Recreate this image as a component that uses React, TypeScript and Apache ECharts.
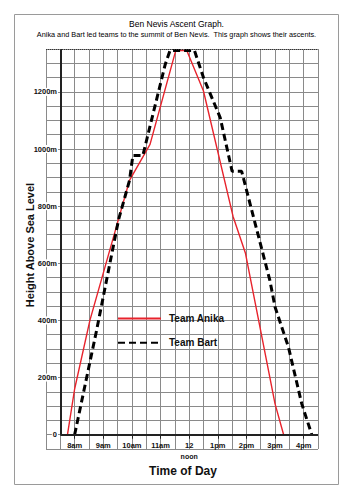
import React, { useEffect, useRef } from "react";
import * as echarts from "echarts";

const titleText = "Ben Nevis Ascent Graph.";
const subtitleText = "Anika and Bart led teams to the summit of Ben Nevis.  This graph shows their ascents.";

const seriesNames = ["Team Anika", "Team Bart"];

const anikaTimes = ["7:45", "8:00", "8:32", "9:55", "10:38", "11:32", "11:55", "12:30", "13:32", "13:58", "15:00", "15:18"];
const anikaHeights = [0, 160, 400, 890, 1016, 1345, 1345, 1203, 764, 635, 108, 0];

const bartTimes = ["8:00", "8:46", "9:32", "9:55", "10:02", "10:23", "10:38", "11:10", "11:20", "12:11", "12:30", "13:05", "13:30", "13:50", "14:49", "15:00", "15:28", "15:56", "16:17"];
const bartHeights = [0, 365, 752, 890, 977, 977, 1080, 1297, 1345, 1345, 1250, 1110, 922, 922, 541, 447, 307, 108, 0];

const hourTicks = [8, 9, 10, 11, 12, 13, 14, 15, 16];
const hourLabels = ["8am", "9am", "10am", "11am", "12", "1pm", "2pm", "3pm", "4pm"];
const heightLabelStep = 200;

const toHours = (s: string) => {
  const [h, m] = s.split(":").map(Number);
  return h + m / 60;
};

const FONT = "Liberation Sans";

export default function App() {
  const ref = useRef<HTMLDivElement>(null);
  useEffect(() => {
    if (!ref.current) return;
    const chart = echarts.init(ref.current, null, { renderer: "svg" });
    const anika = anikaTimes.map((t, i) => [toHours(t), anikaHeights[i]]);
    const bart = bartTimes.map((t, i) => [toHours(t), bartHeights[i]]);
    const axisLineStyle = { color: "#222", width: 2, type: "solid" };
    // the x axes sit on the 0 m line, one 50 m cell above the bottom of the grid
    const gridTop = 49;
    const gridBottom = 51;
    const plotH = 500 - gridTop - gridBottom;
    const zeroOffset = -(plotH * 50) / 1400;
    chart.setOption({
      animation: false,
      backgroundColor: "#fff",
      title: {
        left: "center",
        top: 19,
        text: titleText,
        textStyle: { fontFamily: FONT, fontSize: 8.5, fontWeight: "normal", color: "#000" },
        subtext: subtitleText,
        subtextStyle: { fontFamily: FONT, fontSize: 7.3, color: "#000" },
        itemGap: 3,
        padding: 0,
      },
      legend: {
        data: seriesNames,
        orient: "vertical",
        left: 117,
        top: 313,
        padding: 0,
        itemWidth: 43,
        itemHeight: 14,
        itemGap: 13,
        itemStyle: { opacity: 0 },
        textStyle: { fontFamily: FONT, fontSize: 10, fontWeight: "bold", color: "#111", padding: [0, 0, 0, 3] },
      },
      grid: { left: 46, right: 35, top: gridTop, bottom: gridBottom, containLabel: false },
      xAxis: [
        {
          type: "value",
          position: "bottom",
          offset: zeroOffset,
          min: 7,
          max: 16.5,
          interval: 0.5,
          axisLine: { show: false, onZero: false },
          axisTick: { show: false },
          splitLine: { show: true, lineStyle: { color: "#8a8a8a", width: 1 } },
          axisLabel: {
            margin: 7,
            fontFamily: FONT,
            fontSize: 7.5,
            fontWeight: "bold",
            color: "#111",
            showMinLabel: false,
            showMaxLabel: false,
            formatter: (v: number) => {
              const i = hourTicks.indexOf(v);
              if (i < 0) return "";
              return hourLabels[i] === "12" ? "12\n{n|noon}" : hourLabels[i];
            },
            rich: { n: { fontFamily: FONT, fontSize: 7, fontWeight: "bold", color: "#111", lineHeight: 14 } },
          },
        },
        {
          type: "value",
          position: "bottom",
          offset: zeroOffset,
          min: 7,
          max: 16.5,
          interval: 1,
          axisLine: { show: false, onZero: false },
          axisTick: { show: true, length: 4, customValues: hourTicks, lineStyle: { color: "#222", width: 1 } },
          axisLabel: { show: false },
          splitLine: { show: false },
        },
      ],
      yAxis: {
        type: "value",
        min: -50,
        max: 1350,
        interval: 50,
        axisLine: { show: false },
        axisTick: { show: false },
        splitLine: { show: true, lineStyle: { color: "#8a8a8a", width: 1 } },
        axisLabel: {
          margin: -12,
          fontFamily: FONT,
          fontSize: 7.5,
          fontWeight: "bold",
          color: "#111",
          backgroundColor: "#fff",
          padding: [0, 1],
          showMinLabel: false,
          showMaxLabel: false,
          formatter: (v: number) => (v >= 0 && v % heightLabelStep === 0 ? (v === 0 ? "0" : v + "m") : ""),
        },
      },
      graphic: [
        {
          type: "rect",
          shape: { x: 14.5, y: 14.5, width: 324, height: 470 },
          style: { fill: "none", stroke: "#9a9a9a", lineWidth: 1 },
          silent: true,
        },
        {
          type: "text",
          x: 30,
          y: 245,
          rotation: Math.PI / 2,
          style: {
            text: "Height Above Sea Level",
            fontFamily: FONT,
            fontSize: 11,
            fontWeight: "bold",
            fill: "#111",
            align: "center",
            verticalAlign: "middle",
          },
        },
        {
          type: "text",
          x: 183,
          y: 471,
          style: {
            text: "Time of Day",
            fontFamily: FONT,
            fontSize: 12,
            fontWeight: "bold",
            fill: "#111",
            align: "center",
            verticalAlign: "middle",
          },
        },
      ],
      series: [
        {
          name: seriesNames[0],
          type: "line",
          data: anika,
          symbol: "none",
          lineStyle: { color: "#e8232c", width: 1.4 },
          itemStyle: { color: "#e8232c" },
          z: 3,
          markLine: {
            silent: true,
            symbol: ["none", "none"],
            label: { show: false },
            lineStyle: axisLineStyle,
            data: [
              [{ coord: [7.5, 0], lineStyle: axisLineStyle }, { coord: [7.5, 1350] }],
              [{ coord: [7.5, 0], lineStyle: axisLineStyle }, { coord: [16.5, 0] }],
              [
                { coord: [7, 1350], lineStyle: { color: "#333", width: 1, type: [1, 1] } },
                { coord: [16.5, 1350] },
              ],
            ],
          },
        },
        {
          name: seriesNames[1],
          type: "line",
          data: bart,
          symbol: "none",
          lineStyle: { color: "#000", width: 3, type: [7, 4] },
          itemStyle: { color: "#000" },
          z: 4,
        },
      ],
    });
    return () => chart.dispose();
  }, []);
  return <div ref={ref} style={{ position: "fixed", left: 0, top: 0, width: 353, height: 500 }} />;
}
